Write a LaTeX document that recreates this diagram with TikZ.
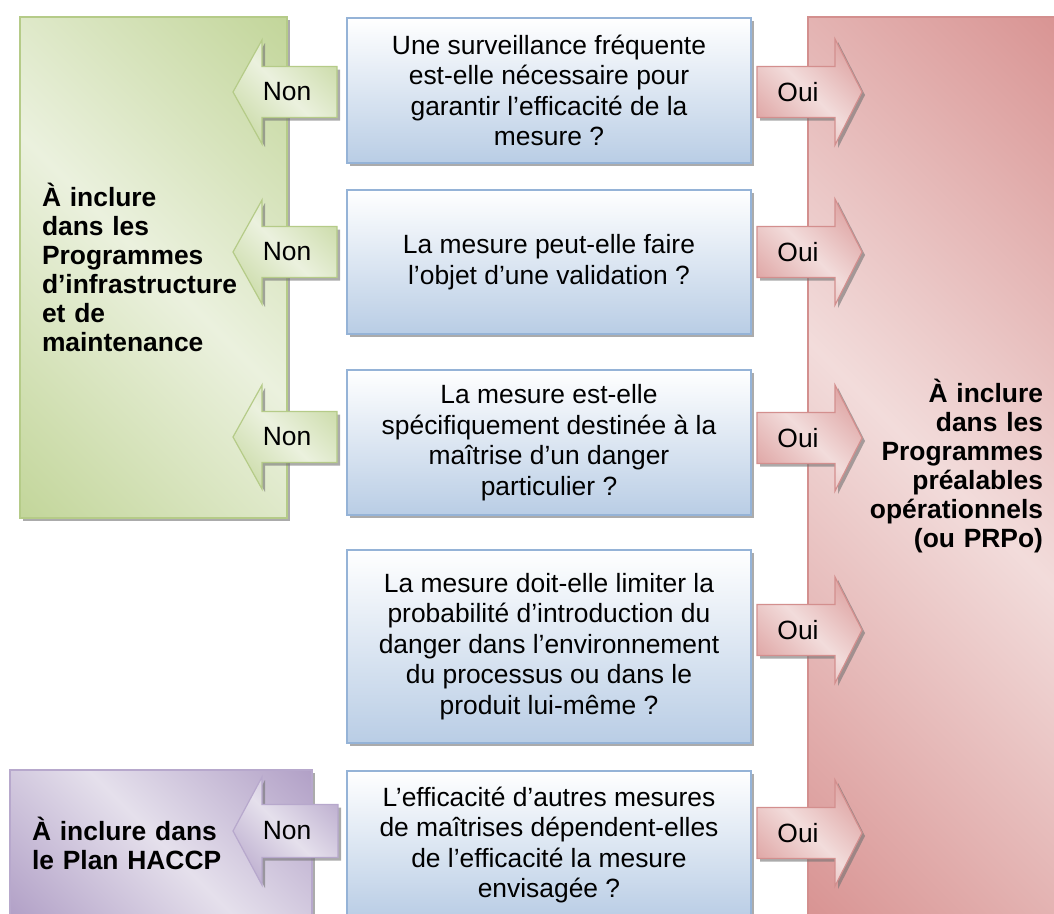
\documentclass[tikz,border=0pt]{standalone}
\usepackage{fontspec}
\setmainfont{Liberation Sans}
\usetikzlibrary{shadows}

\definecolor{qblue}{HTML}{B9CDE5}
\definecolor{qline}{HTML}{95B3D7}
\definecolor{gdark}{HTML}{C3D69B}
\definecolor{glight}{HTML}{EBF1DE}
\definecolor{gline}{HTML}{B5CB88}
\definecolor{rdark}{HTML}{D99594}
\definecolor{rlight}{HTML}{F2DCDB}
\definecolor{rline}{HTML}{D38F8E}
\definecolor{pdark}{HTML}{B2A1C7}
\definecolor{plight}{HTML}{E5E0EC}
\definecolor{pline}{HTML}{B7A8CC}

\pgfdeclarehorizontalshading{greenfade}{100bp}{color(0bp)=(gdark); color(15bp)=(gdark); color(50bp)=(glight); color(85bp)=(gdark); color(100bp)=(gdark)}
\pgfdeclarehorizontalshading{redfade}{100bp}{color(0bp)=(rdark); color(15bp)=(rdark); color(50bp)=(rlight); color(85bp)=(rdark); color(100bp)=(rdark)}
\pgfdeclarehorizontalshading{purplefade}{100bp}{color(0bp)=(pdark); color(15bp)=(pdark); color(50bp)=(plight); color(85bp)=(pdark); color(100bp)=(pdark)}

\tikzset{
    shade/.style={drop shadow={shadow xshift=3pt, shadow yshift=-3pt, fill=black!55, opacity=0.6}},
    question/.style={draw=qline, line width=1.2pt, top color=white, bottom color=qblue, shade,
                     minimum width=404, align=center, inner sep=0pt},
    target/.style={line width=1.2pt, shading angle=45, shade, inner ysep=0pt,
                   font=\bfseries\fontsize{26.4}{29}\selectfont},
    garrow/.style={draw=gline, line width=1.2pt, shading=greenfade, shading angle=45, shade},
    rarrow/.style={draw=rline, line width=1.2pt, shading=redfade, shading angle=45, shade},
    parrow/.style={draw=pline, line width=1.2pt, shading=purplefade, shading angle=45, shade},
}

\begin{document}
\begin{tikzpicture}[x=1pt, y=-1pt, font=\fontsize{26.4}{30.5}\selectfont]
    \useasboundingbox (0,0) rectangle (1054,913);
    \clip (0,0) rectangle (1054,913);

    % Destinations
    \node[target, draw=gline, shading=greenfade, minimum height=501, text width=223, inner xsep=22,
          align=left] (prp) at (153.5,267.5)
          {À inclure\\dans les\\Programmes\\d’infrastructure\\et de\\maintenance};
    \node[target, draw=rline, shading=redfade, minimum height=898, text width=220, inner xsep=15,
          align=right] (prpo) at (933,466)
          {À inclure\\dans les\\Programmes\\préalables\\opérationnels\\(ou PRPo)};
    \node[target, draw=pline, shading=purplefade, minimum height=146, text width=258, inner xsep=22,
          align=left] (haccp) at (161,843)
          {À inclure dans\\le Plan HACCP};

    % Questions
    \node[question, minimum height=145] (q1) at (549,90.5)
          {Une surveillance fréquente\\est-elle nécessaire pour\\garantir l’efficacité de la\\mesure ?};
    \node[question, minimum height=144] (q2) at (549,262)
          {La mesure peut-elle faire\\l’objet d’une validation ?};
    \node[question, minimum height=145] (q3) at (549,442.5)
          {La mesure est-elle\\spécifiquement destinée à la\\maîtrise d’un danger\\particulier ?};
    \node[question, minimum height=193] (q4) at (549,646.5)
          {La mesure doit-elle limiter la\\probabilité d’introduction du\\danger dans l’environnement\\du processus ou dans le\\produit lui-même ?};
    \node[question, minimum height=148] (q5) at (549,845)
          {L’efficacité d’autres mesures\\de maîtrises dépendent-elles\\de l’efficacité la mesure\\envisagée ?};

    % Non
    \foreach \c/\name in {92/non1, 252/non2, 437/non3} {
        \draw[garrow, shift={(0,\c)}] (233,0) -- (262,-52) -- (262,-25.5) -- (337,-25.5)
                                      -- (337,25.5) -- (262,25.5) -- (262,52) -- cycle;
        \node (\name) at (287,\c) {Non};
    }
    \draw[parrow, shift={(0,831)}] (233,0) -- (262,-54) -- (262,-26.5) -- (338,-26.5)
                                   -- (338,26.5) -- (262,26.5) -- (262,54) -- cycle;
    \node (non5) at (287,831) {Non};

    % Oui
    \foreach \c/\name in {92/oui1, 252/oui2, 438/oui3, 630/oui4, 833/oui5} {
        \draw[rarrow, shift={(0,\c)}] (757,-25.5) -- (835,-25.5) -- (835,-53) -- (862,0)
                                      -- (835,53) -- (835,25.5) -- (757,25.5) -- cycle;
        \node (\name) at (798,\c) {Oui};
    }
\end{tikzpicture}
\end{document}
